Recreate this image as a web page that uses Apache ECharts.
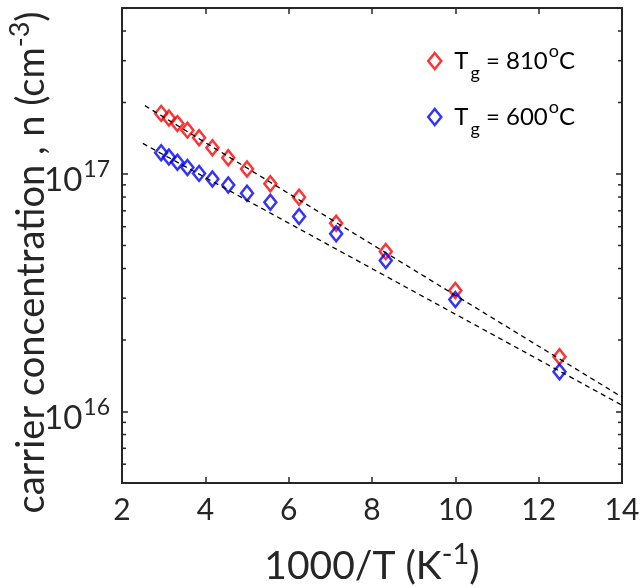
<!DOCTYPE html>
<html>
<head>
<meta charset="UTF-8"/>
<script src="https://cdn.jsdelivr.net/npm/echarts@6/dist/echarts.min.js"></script>
<title>carrier concentration</title>
<style>
  html, body { margin: 0; padding: 0; background: #fff; }
  #main { width: 640px; height: 587px; }
</style>
</head>
<body>
<div id="main"></div>
<script type="text/javascript">
    // 1000/T values (K^-1)
    var invT = [2.94, 3.125, 3.33, 3.57, 3.85, 4.17, 4.55, 5.0, 5.56, 6.25, 7.14, 8.33, 10.0, 12.5];
    // carrier concentration n (cm^-3)
    var n810 = [1.80e17, 1.72e17, 1.63e17, 1.53e17, 1.42e17, 1.29e17, 1.17e17, 1.05e17, 9.1e16, 7.98e16, 6.2e16, 4.72e16, 3.23e16, 1.70e16];
    var n600 = [1.23e17, 1.18e17, 1.12e17, 1.066e17, 1.006e17, 9.53e16, 8.99e16, 8.29e16, 7.6e16, 6.62e16, 5.6e16, 4.32e16, 2.96e16, 1.47e16];
    // dashed fit lines (end points)
    var fit810X = [2.55, 14];
    var fit810Y = [1.94e17, 1.15e16];
    var fit600X = [2.5, 14];
    var fit600Y = [1.345e17, 1.063e16];
    // axes
    var xMin = 2, xMax = 14, xStep = 2;
    var yMin = 5e15, yMax = 5e17;
    var yMinorTicks = [6e15, 7e15, 8e15, 9e15, 2e16, 3e16, 4e16, 5e16, 6e16, 7e16, 8e16, 9e16, 2e17, 3e17, 4e17];

    var ink = '#262626';
    var font = 'Lato';

    function zip(xs, ys) {
        var out = [];
        for (var i = 0; i < xs.length; i++) out.push([xs[i], ys[i]]);
        return out;
    }

    // only label the decades, as 10^n
    function powLabel(v) {
        var e = Math.log(v) / Math.LN10;
        if (Math.abs(e - Math.round(e)) > 1e-6) return '';
        return '{b|10}{sup|' + Math.round(e) + '}';
    }

    var myChart = echarts.init(document.getElementById('main'));

    var option = {
        animation: false,
        textStyle: {fontFamily: font, color: ink},
        grid: {left: 122, right: 18, top: 8, bottom: 104, outerBoundsMode: 'none', containLabel: false},
        legend: {
            orient: 'vertical',
            left: 422,
            top: 35,
            itemWidth: 13,
            itemHeight: 16,
            itemGap: 14,
            data: [
                {name: '810', icon: 'diamond', itemStyle: {color: 'rgba(0,0,0,0)', borderColor: '#ff0000', borderWidth: 2.5}},
                {name: '600', icon: 'diamond', itemStyle: {color: 'rgba(0,0,0,0)', borderColor: '#0000ff', borderWidth: 2.5}}
            ],
            formatter: function (name) {
                return '{t|T}{sub|g}{t| = ' + name + '}{sup|o}{t|C}';
            },
            textStyle: {
                fontFamily: font,
                color: '#000',
                padding: [0, 0, 0, 8],
                rich: {
                    t: {fontSize: 24, fontFamily: font, color: '#000', lineHeight: 30},
                    sub: {fontSize: 18, fontFamily: font, color: '#000', lineHeight: 30, padding: [24, 0, 0, 2]},
                    sup: {fontSize: 18, fontFamily: font, color: '#000', lineHeight: 30, padding: [0, 0, 20, 1]}
                }
            }
        },
        xAxis: [
            {
                type: 'value',
                min: xMin, max: xMax, interval: xStep,
                name: '{t|1000/T (K}{sup|-1}{t|)}',
                nameLocation: 'middle',
                nameGap: 57,
                nameMoveOverlap: false,
                nameTextStyle: {
                    rich: {
                        t: {fontSize: 39, fontFamily: font, color: ink},
                        sup: {fontSize: 29, fontFamily: font, color: ink, padding: [0, 0, 24, 0]}
                    }
                },
                axisLine: {lineStyle: {color: ink, width: 2}},
                axisTick: {inside: true, length: 6, lineStyle: {color: ink, width: 1.5}},
                axisLabel: {fontSize: 30, color: ink, fontFamily: font, margin: 12},
                splitLine: {show: false}
            },
            {
                type: 'value', position: 'top',
                min: xMin, max: xMax, interval: xStep,
                axisLine: {lineStyle: {color: ink, width: 2}},
                axisTick: {inside: true, length: 6, lineStyle: {color: ink, width: 1.5}},
                axisLabel: {show: false},
                splitLine: {show: false}
            }
        ],
        yAxis: [
            {
                type: 'log', logBase: 10,
                min: yMin, max: yMax,
                name: '{t|carrier concentration , n (cm}{sup|-3}{t|)}',
                nameLocation: 'middle',
                nameGap: 66,
                nameMoveOverlap: false,
                nameTextStyle: {
                    padding: [0, 34, 0, 0],
                    rich: {
                        t: {fontSize: 38, fontFamily: font, color: ink},
                        sup: {fontSize: 27, fontFamily: font, color: ink, padding: [0, 0, 22, 0]}
                    }
                },
                axisLine: {lineStyle: {color: ink, width: 2}},
                axisTick: {inside: true, length: 6, lineStyle: {color: ink, width: 1.5}},
                axisLabel: {
                    margin: 12,
                    showMinLabel: false, showMaxLabel: false,
                    formatter: powLabel,
                    rich: {
                        b: {fontSize: 33, fontFamily: font, color: ink, padding: [13, 0, 0, 0]},
                        sup: {fontSize: 23, fontFamily: font, color: ink, padding: [0, 0, 8, 1]}
                    }
                },
                splitLine: {show: false},
                minorTick: {show: false}
            },
            {
                type: 'log', logBase: 10, position: 'right',
                min: yMin, max: yMax,
                axisLine: {lineStyle: {color: ink, width: 2}},
                axisTick: {inside: true, length: 6, lineStyle: {color: ink, width: 1.5}},
                axisLabel: {show: false},
                splitLine: {show: false}
            }
        ],
        series: [
            {
                // minor ticks of the log axis at 2..9 x 10^n, both sides
                type: 'custom',
                name: 'minor',
                silent: true,
                clip: false,
                z: 10,
                renderItem: function (params, api) {
                    var v = api.value(1);
                    var l = api.coord([xMin, v]);
                    var r = api.coord([xMax, v]);
                    var st = {stroke: ink, lineWidth: 1.5};
                    return {
                        type: 'group',
                        children: [
                            {type: 'line', shape: {x1: l[0], y1: l[1], x2: l[0] + 4, y2: l[1]}, style: st},
                            {type: 'line', shape: {x1: r[0] - 4, y1: r[1], x2: r[0], y2: r[1]}, style: st}
                        ]
                    };
                },
                data: yMinorTicks.map(function (v) { return [xMin, v]; })
            },
            {
                type: 'line', name: 'fit810',
                data: zip(fit810X, fit810Y),
                symbol: 'none', silent: true,
                lineStyle: {color: '#000', width: 1.3, type: [5, 4]}
            },
            {
                type: 'line', name: 'fit600',
                data: zip(fit600X, fit600Y),
                symbol: 'none', silent: true,
                lineStyle: {color: '#000', width: 1.3, type: [5, 4]}
            },
            {
                type: 'scatter', name: '810',
                data: zip(invT, n810),
                symbol: 'diamond', symbolSize: [12, 15],
                itemStyle: {color: 'rgba(0,0,0,0)', borderColor: '#ff0000', borderWidth: 2.5}
            },
            {
                type: 'scatter', name: '600',
                data: zip(invT, n600),
                symbol: 'diamond', symbolSize: [12, 15],
                itemStyle: {color: 'rgba(0,0,0,0)', borderColor: '#0000ff', borderWidth: 2.5}
            }
        ]
    };

    myChart.setOption(option);
</script>
</body>
</html>
